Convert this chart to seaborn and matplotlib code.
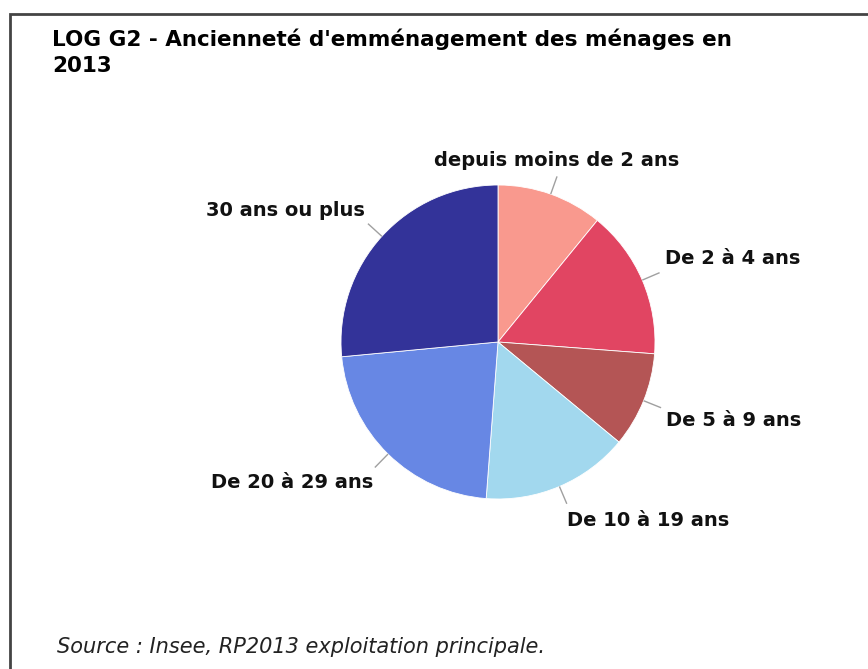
import matplotlib
matplotlib.use("Agg")
import matplotlib.pyplot as plt
import seaborn as sns
import numpy as np
from matplotlib.patches import Rectangle

sns.set_theme(style="white")
plt.rcParams['font.family'] = ['DejaVu Sans']

categories = ["depuis moins de 2 ans", "De 2 à 4 ans", "De 5 à 9 ans",
              "De 10 à 19 ans", "De 20 à 29 ans", "30 ans ou plus"]
values = [10.9, 15.3, 9.8, 15.2, 22.3, 26.5]
colors = ["#F9998E", "#E14562", "#B45555", "#A2D8EE", "#6787E4", "#333399"]

title = "LOG G2 - Ancienneté d'emménagement des ménages en\n2013"
source = "Source : Insee, RP2013 exploitation principale."

W, H = 868, 669
fig = plt.figure(figsize=(W / 100, H / 100), dpi=100)
fig.patch.set_facecolor("white")

# pie axes: center (498,342) px, radius 157 px
cx, cy, r = 498, 342, 157
ax = fig.add_axes([(cx - r) / W, (H - cy - r) / H, 2 * r / W, 2 * r / H])
wedges, _ = ax.pie(values, colors=colors, startangle=90, counterclock=False,
                   radius=1.0, wedgeprops=dict(edgecolor="white", linewidth=0.6))
ax.set_xlim(-1, 1)
ax.set_ylim(-1, 1)
ax.set_aspect("equal")
ax.axis("off")

# label layout (pixel positions of text anchors)
label_pos = [(557, 161, "center"), (665, 258, "left"), (666, 421, "left"),
             (567, 521, "left"), (373, 483, "right"), (365, 211, "right")]

for w, lab, (px, py, ha) in zip(wedges, categories, label_pos):
    ang = np.deg2rad((w.theta1 + w.theta2) / 2)
    x0, y0 = np.cos(ang), np.sin(ang)
    ax.plot([x0 * 1.0, x0 * 1.12], [y0 * 1.0, y0 * 1.12], color="#A0A0A0",
            lw=1.0, clip_on=False, solid_capstyle="butt")
    fig.text(px / W, 1 - py / H, lab, ha=ha, va="center", fontsize=14,
             fontweight="bold", color="#111111")

fig.text(52 / W, 1 - 29 / H, title, ha="left", va="top", fontsize=15.5,
         fontweight="bold", color="black", linespacing=1.35)
fig.text(57 / W, 1 - 647 / H, source, ha="left", va="center", fontsize=15,
         style="italic", color="#222222")

frame = Rectangle((10 / W, -0.05), 1.2, (1 - 14 / H) + 0.05, transform=fig.transFigure,
                  fill=False, edgecolor="#444444", lw=2, clip_on=False)
fig.patches.append(frame)

fig.savefig("out.png", dpi=100)
